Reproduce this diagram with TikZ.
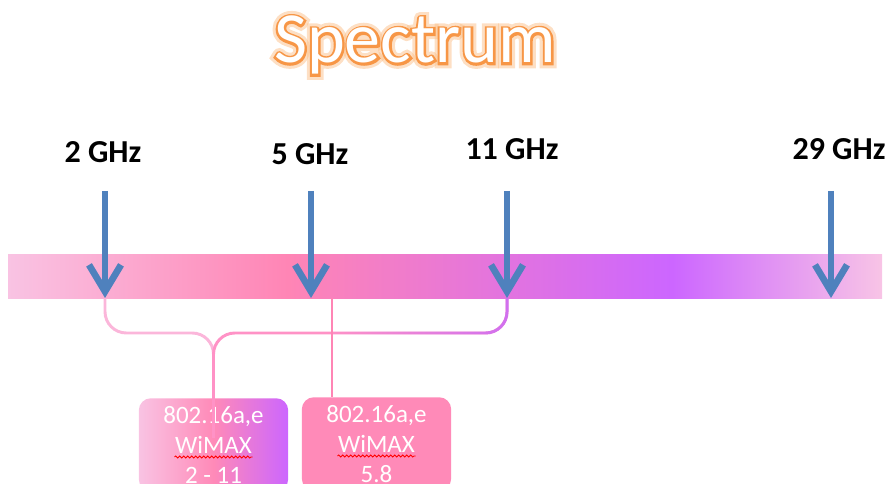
\documentclass[tikz,border=0pt]{standalone}
\usepackage{fontspec}
\setmainfont{Carlito}
\usetikzlibrary{arrows.meta,decorations.pathmorphing,fadings}
\definecolor{arrowBlue}{HTML}{4F81BD}
\definecolor{barLight}{HTML}{F9C3E3}
\definecolor{barPink}{HTML}{FF85B5}
\definecolor{barViolet}{HTML}{CC66FF}
\definecolor{barEnd}{HTML}{F8C4E6}
\definecolor{boxPink}{HTML}{FF8AB8}
\definecolor{braceLight}{HTML}{FBB6DA}
\definecolor{bracePink}{HTML}{FF92C6}
\definecolor{braceViolet}{HTML}{D070F0}
\definecolor{glowPeach}{HTML}{FBC08A}
\definecolor{rimOrange}{HTML}{F79646}
\newcommand{\strokedtext}[3]{\special{pdf:literal direct #1 Tr #2 w}#3\special{pdf:literal direct 0 Tr}}
\pgfdeclarehorizontalshading{spectrumshade}{100bp}{color(0bp)=(barLight); color(25bp)=(barLight); color(41bp)=(barPink); color(63bp)=(barViolet); color(75bp)=(barEnd); color(100bp)=(barEnd)}
\pgfdeclarehorizontalshading{wimaxshade}{100bp}{color(0bp)=(barLight); color(25bp)=(barLight); color(50bp)=(boxPink); color(75bp)=(barViolet); color(100bp)=(barViolet)}

\begin{document}
\begin{tikzpicture}[x=0.75pt,y=-0.75pt,
    titletext/.style={font=\fontsize{54pt}{60pt}\selectfont, anchor=base, inner sep=0pt},
    freqlabel/.style={font=\fontsize{24pt}{28pt}\selectfont\bfseries, anchor=base, inner sep=0pt},
    freqarrow/.style={-{Straight Barb[length=20pt,width=24pt]}, draw=arrowBlue, line width=5pt},
    braceline/.style={line width=2.2pt, rounded corners=16pt},
    wimaxbox/.style={rounded corners=9pt, minimum width=112pt, inner ysep=6pt, anchor=north,
      text=white, align=center, font=\fontsize{18.75pt}{22.5pt}\selectfont},
    squiggle/.style={draw=red, line width=0.6pt, decorate, decoration={snake, amplitude=0.8pt, segment length=3pt}}
  ]
  \clip (0,0) rectangle (887,484);

  \node[titletext, text=glowPeach, opacity=0.5] (halo) at (415,63) {\strokedtext{2}{8}{Spectrum}};
  \node[titletext, text=rimOrange] (rim) at (415,63) {\strokedtext{2}{3.4}{Spectrum}};
  \node[titletext, text=white] (title) at (415,63) {Spectrum};

  \node[freqlabel] (l2) at (103,163) {2 GHz};
  \node[freqlabel] (l5) at (310,165) {5 GHz};
  \node[freqlabel] (l11) at (512,160) {11 GHz};
  \node[freqlabel] (l29) at (839,160) {29 GHz};

  \path[shading=spectrumshade] (8,255) rectangle (882,298);
  \coordinate (barS) at (0,298);

  \coordinate (a2) at (105,191);
  \coordinate (a5) at (311,191);
  \coordinate (a11) at (507,191);
  \coordinate (a29) at (831,191);
  \coordinate (m58) at (332,298);

  \node[wimaxbox, shading=wimaxshade] (w1) at (213.5,398) {802.16a,e\\WiMAX\\2 - 11};
  \node[wimaxbox, fill=boxPink] (w2) at (376.5,397) {802.16a,e\\WiMAX\\5.8};

  \draw[braceline, draw=braceLight] (a2 |- barS) -- (105,333) -- (w1.north |- 0,333) -- (w1.north);
  \draw[braceline, draw=bracePink] (a11 |- barS) -- (507,333) -- (w1.north |- 0,333) -- ([yshift=-30pt]w1.north);
  \draw[braceline, draw=braceViolet, path fading=west] (a11 |- barS) -- (507,333) -- (330,333);
  \draw[line width=2.2pt, draw=barPink] (m58) -- (m58 |- w2.north);

  \draw[freqarrow] (a2) -- (a2 |- barS);
  \draw[freqarrow] (a5) -- (a5 |- barS);
  \draw[freqarrow] (a11) -- (a11 |- barS);
  \draw[freqarrow] (a29) -- (a29 |- barS);

  \draw[squiggle] ([shift={(-39,59)}]w1.north) -- ([shift={(39,59)}]w1.north);
  \draw[squiggle] ([shift={(-39,59)}]w2.north) -- ([shift={(39,59)}]w2.north);
\end{tikzpicture}
\end{document}
